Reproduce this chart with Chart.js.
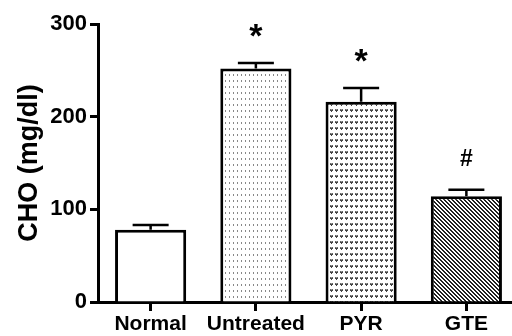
<!DOCTYPE html>
<html>
<head>
<meta charset="utf-8">
<script src="https://cdn.jsdelivr.net/npm/chart.js@4"></script>
<style>
html,body{margin:0;padding:0;background:#fff;overflow:hidden;width:512px;height:336px;}
canvas{display:block;}
</style>
</head>
<body>
<canvas id="c" width="519" height="336"></canvas>
<script>
const categories = ['Normal', 'Untreated', 'PYR', 'GTE'];
const means = [78, 252, 216, 114];
const sems = [5, 6, 15, 7];
const marks = ['', '*', '*', '#'];
const yMin = 0, yMax = 300, yStep = 100;
const yTitle = 'CHO (mg/dl)';

const ctx0 = document.getElementById('c').getContext('2d');
function pat(w, h, draw) {
  const c = document.createElement('canvas');
  c.width = w; c.height = h;
  const g = c.getContext('2d');
  g.fillStyle = '#fff'; g.fillRect(0, 0, w, h);
  draw(g);
  return ctx0.createPattern(c, 'repeat');
}
const dots = pat(4, 6, g => { g.fillStyle = '#888'; g.fillRect(1, 2, 1, 2); });
const hearts = pat(5, 6, g => {
  g.fillStyle = '#666';
  g.fillRect(0, 1, 1, 1); g.fillRect(2, 1, 1, 1);
  g.fillStyle = '#999';
  g.fillRect(1, 1, 1, 1);
  g.fillStyle = '#444';
  g.fillRect(0, 2, 3, 1);
  g.fillRect(1, 3, 1, 1);
});
const diag = pat(4, 4, g => {
  g.fillStyle = '#222';
  for (let i = 0; i < 4; i++) { g.fillRect(i, i, 1, 1); g.fillRect((i + 1) % 4, i, 1, 1); }
});
const fills = ['#fff', dots, hearts, diag];

const errPlugin = {
  id: 'errbars',
  afterDatasetsDraw(chart) {
    const ctx = chart.ctx;
    const y = chart.scales.y;
    const meta = chart.getDatasetMeta(0);
    ctx.save();
    ctx.strokeStyle = '#000';
    ctx.lineWidth = 2.5;
    meta.data.forEach((bar, i) => {
      const top = y.getPixelForValue(means[i]);
      const cap = y.getPixelForValue(means[i] + sems[i]);
      ctx.beginPath();
      ctx.moveTo(bar.x, top);
      ctx.lineTo(bar.x, cap);
      ctx.moveTo(bar.x - 18, cap);
      ctx.lineTo(bar.x + 18, cap);
      ctx.stroke();
      if (marks[i]) {
        ctx.fillStyle = '#000';
        ctx.font = (marks[i] === '*' ? 'bold 34px' : 'bold 23px') + ' "Liberation Sans", Arial, sans-serif';
        ctx.textAlign = 'center';
        ctx.textBaseline = 'alphabetic';
        const m = ctx.measureText(marks[i]);
        const inkMid = (m.actualBoundingBoxAscent - m.actualBoundingBoxDescent) / 2;
        ctx.fillText(marks[i], bar.x, cap - 32 + inkMid);
      }
    });
    ctx.restore();
  }
};

const fam = '"Liberation Sans", Arial, sans-serif';

new Chart(document.getElementById('c'), {
  type: 'bar',
  data: {
    labels: categories,
    datasets: [{
      data: means,
      backgroundColor: fills,
      borderColor: '#000',
      borderWidth: 3,
      borderSkipped: 'start',
      barPercentage: 0.676,
      categoryPercentage: 1
    }]
  },
  options: {
    responsive: false,
    animation: false,
    devicePixelRatio: 1,
    layout: { padding: { top: 24, right: 0, left: 0, bottom: 0 } },
    plugins: { legend: { display: false }, tooltip: { enabled: false } },
    scales: {
      x: {
        grid: { display: true, drawOnChartArea: false, drawTicks: true, tickLength: 9, tickWidth: 3, tickColor: '#000', offset: false },
        border: { display: true, color: '#000', width: 3 },
        ticks: { color: '#000', font: { family: fam, weight: 'bold', size: 21 }, padding: 1, maxRotation: 0, autoSkip: false },
        afterFit(s) { s.height = 34; }
      },
      y: {
        min: yMin, max: yMax,
        grid: { display: true, drawOnChartArea: false, drawTicks: true, tickLength: 8, tickWidth: 3, tickColor: '#000' },
        border: { display: true, color: '#000', width: 3 },
        ticks: { stepSize: yStep, color: '#000', font: { family: fam, weight: 'bold', size: 22 }, padding: 3 },
        title: { display: true, text: yTitle, color: '#000', font: { family: fam, weight: 'bold', size: 27 }, padding: { top: 13, bottom: 0 } },
        afterFit(s) { s.width = 98; }
      }
    }
  },
  plugins: [errPlugin]
});
</script>
</body>
</html>
